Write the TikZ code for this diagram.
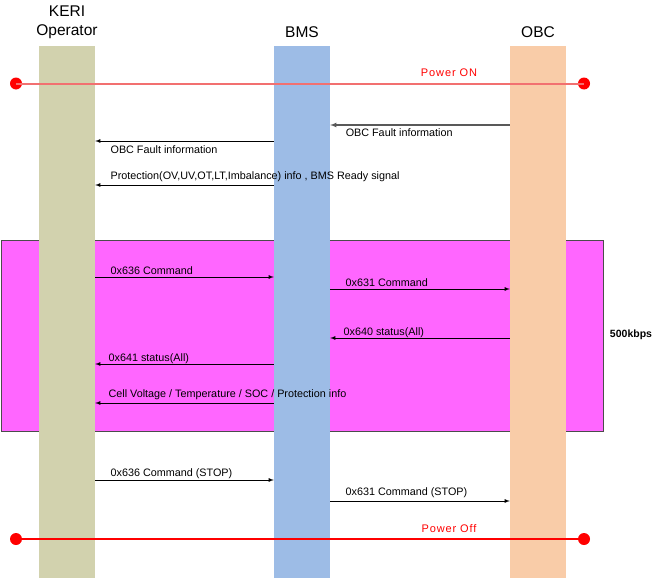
\documentclass[tikz,border=0pt]{standalone}
\usepackage{fontspec}
\setmainfont{Liberation Sans}
\usetikzlibrary{arrows}

\definecolor{kericol}{RGB}{210,210,174}
\definecolor{bmscol}{RGB}{157,188,230}
\definecolor{obccol}{RGB}{249,204,168}
\definecolor{cancol}{RGB}{255,102,255}
\definecolor{oncol}{RGB}{242,112,112}

\begin{document}
\begin{tikzpicture}[x=1pt,y=-1pt,
	lifeline/.style={draw=none,minimum width=56pt,minimum height=532pt,inner sep=0},
	head/.style={align=center,font=\fontsize{15.5}{19}\selectfont},
	lbl/.style={inner sep=0,anchor=west,text=black,font=\fontsize{10.8}{12}\selectfont},
	msg/.style={-latex,line width=0.8pt},
	dot/.style={circle,fill=red,minimum size=12pt,inner sep=0},
	pwr/.style={text=red,font=\fontsize{11}{13}\selectfont\addfontfeature{LetterSpace=8}}]
	\useasboundingbox (0,0) rectangle (658,578);
	% CAN window
	\node[draw=black!70,fill=cancol,minimum width=602pt,minimum height=191pt,inner sep=0] (can) at (302,335.5) {};
	\node[font=\bfseries\fontsize{10.5}{12}\selectfont] (rate) at (631,335) {500kbps};
	% lifelines
	\node[lifeline,fill=kericol] (keri) at (67,312) {};
	\node[lifeline,fill=bmscol] (bms) at (302,312) {};
	\node[lifeline,fill=obccol] (obc) at (538,312) {};
	\node[head] (kerihead) at (67,22) {KERI\\Operator};
	\node[head] (bmshead) at (302,32) {BMS};
	\node[head] (obchead) at (538,32) {OBC};
	% power on
	\node[dot] (on1) at (16,83.5) {};
	\node[dot] (on2) at (584,83.5) {};
	\draw[color=oncol,line width=2pt] (on1.center) -- (on2.center);
	\node[pwr] (ontxt) at (449,73) {Power ON};
	% messages
	\draw[msg,color=black!65,line width=1.1pt] (obc.west |- 0,125) -- (bms.east |- 0,125) node[lbl,pos=1,xshift=15pt,yshift=-8pt]{OBC Fault information};
	\draw[msg] (bms.west |- 0,141) -- (keri.east |- 0,141) node[lbl,pos=1,xshift=15pt,yshift=-9pt]{OBC Fault information};
	\draw[msg] (bms.west |- 0,185) -- (keri.east |- 0,185) node[lbl,pos=1,xshift=15pt,yshift=8pt]{Protection(OV,UV,OT,LT,Imbalance) info , BMS Ready signal};
	\draw[msg] (keri.east |- 0,277) -- (bms.west |- 0,277) node[lbl,pos=0,xshift=15pt,yshift=6pt]{0x636 Command};
	\draw[msg] (bms.east |- 0,289) -- (obc.west |- 0,289) node[lbl,pos=0,xshift=15pt,yshift=6pt]{0x631 Command};
	\draw[msg] (obc.west |- 0,338) -- (bms.east |- 0,338) node[lbl,pos=1,xshift=13pt,yshift=5pt]{0x640 status(All)};
	\draw[msg] (bms.west |- 0,364) -- (keri.east |- 0,364) node[lbl,pos=1,xshift=13pt,yshift=5pt]{0x641 status(All)};
	\draw[msg] (bms.west |- 0,403) -- (keri.east |- 0,403) node[lbl,pos=1,xshift=13pt,yshift=8pt]{Cell Voltage / Temperature / SOC / Protection info};
	\draw[msg] (keri.east |- 0,480) -- (bms.west |- 0,480) node[lbl,pos=0,xshift=15pt,yshift=6pt]{0x636 Command (STOP)};
	\draw[msg] (bms.east |- 0,501) -- (obc.west |- 0,501) node[lbl,pos=0,xshift=15pt,yshift=8pt]{0x631 Command (STOP)};
	% power off
	\node[dot] (off1) at (16,539) {};
	\node[dot] (off2) at (584,539) {};
	\draw[color=red,line width=1.2pt] (off1.center) -- (off2.center);
	\node[pwr] (offtxt) at (449,529) {Power Off};
\end{tikzpicture}
\end{document}
